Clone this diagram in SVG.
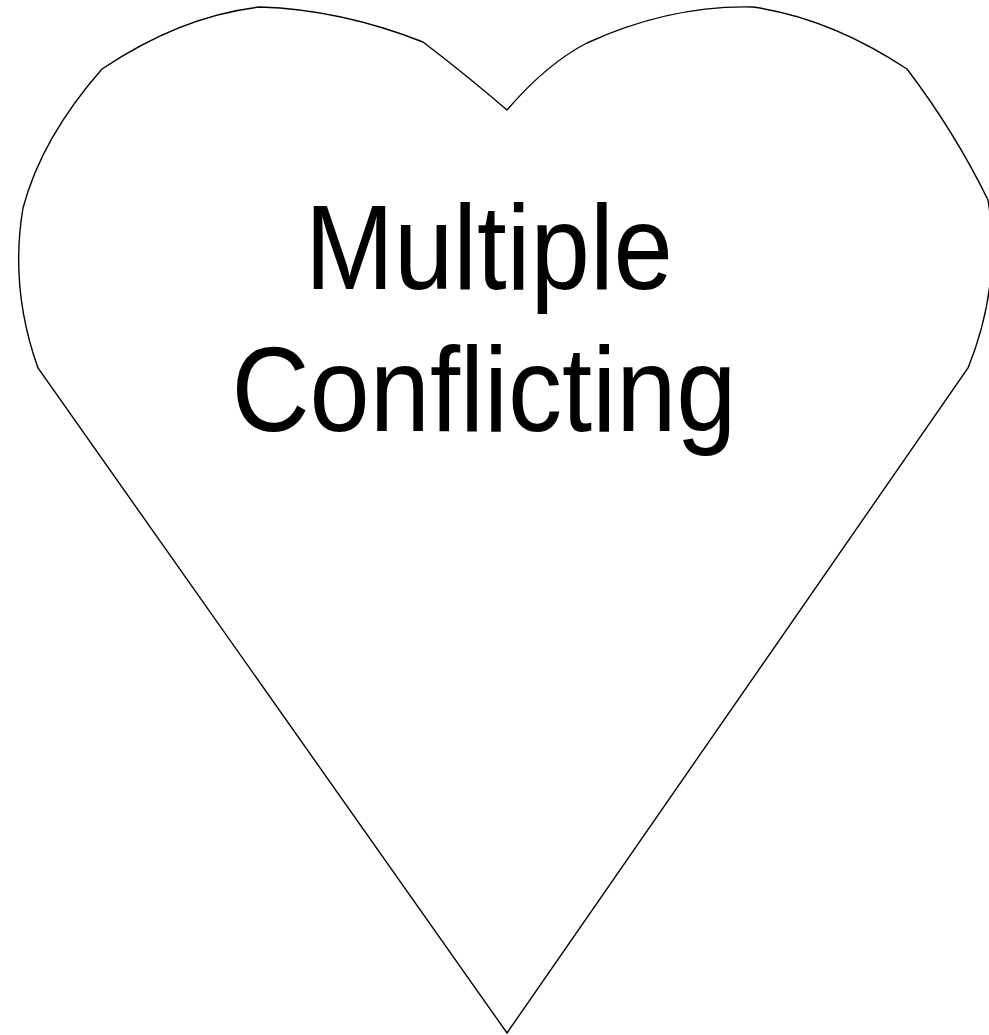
<svg xmlns="http://www.w3.org/2000/svg" width="989" height="1035" viewBox="0 0 989 1035">
<style>
.shape{fill:#ffffff;stroke:#000000;stroke-width:1.4;stroke-linejoin:miter}
.lbl{font-family:"Liberation Sans",Arial,sans-serif;font-size:120px;fill:#000000;text-anchor:middle}
</style>
<rect width="989" height="1035" fill="#ffffff"/>
<g id="heart">
<path class="shape" d="M507,110 Q465,74 423,42 Q340.5,9.5 260,7 Q181,16 102,69 Q41.5,138 23,208 Q9.5,288 38,368 L507,1033 L968,368 Q1002,284 988,200 Q954.5,131.5 907,69 Q830,18 753,7 Q670,5 587,43 Q547,63.5 507,110 Z"/>
<text class="lbl" x="489" y="289" textLength="368" lengthAdjust="spacingAndGlyphs">Multiple</text>
<text class="lbl" x="484" y="431" textLength="505" lengthAdjust="spacingAndGlyphs">Conflicting</text>
</g>
<g id="connectors"/>
</svg>
